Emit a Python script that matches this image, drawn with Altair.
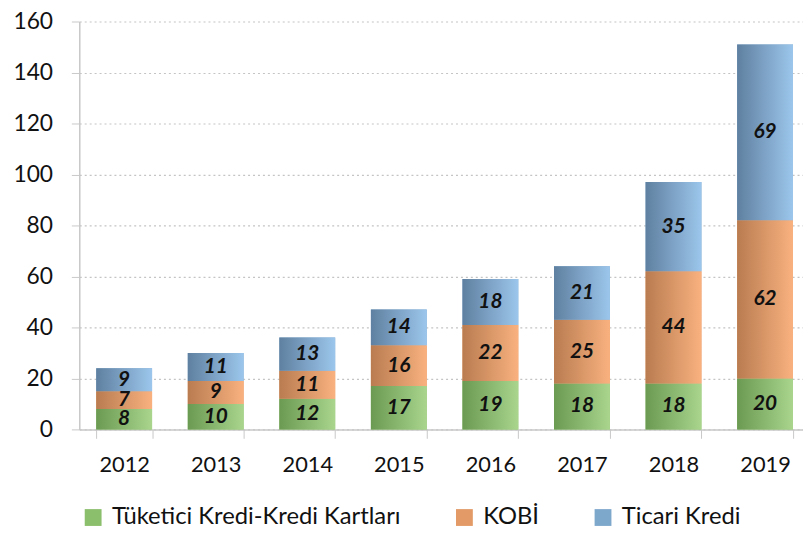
import altair as alt
import pandas as pd

years = ["2012", "2013", "2014", "2015", "2016", "2017", "2018", "2019"]
series = ["Tüketici Kredi-Kredi Kartları", "KOBİ", "Ticari Kredi"]
tuketici = [8, 10, 12, 17, 19, 18, 18, 20]
kobi = [7, 9, 11, 16, 22, 25, 44, 62]
ticari = [9, 11, 13, 14, 18, 21, 35, 69]

solid = ["#8cbf6c", "#e39a66", "#7ea7cc"]
grads = [("#6b9a52", "#a9d58d"), ("#b97c50", "#f9b17f"), ("#5f80a0", "#9cc6ec")]

rows = []
for i, y in enumerate(years):
    for k, (s, vals) in enumerate(zip(series, [tuketici, kobi, ticari])):
        rows.append({"year": y, "series": s, "order": k, "value": vals[i]})
df = pd.DataFrame(rows)

FONT = "Lato"

base = alt.Chart(df).transform_stack(
    stack="value", groupby=["year"], as_=["v0", "v1"],
    sort=[alt.SortField("order", order="ascending")]
).transform_calculate(mid="(datum.v0 + datum.v1) / 2")

xscale = alt.Scale(paddingInner=0.39, paddingOuter=0.185)
xenc = alt.X("year:N", sort=years, title=None, scale=xscale,
             axis=alt.Axis(labelAngle=0, labelFontSize=22, labelFont=FONT,
                           labelColor="#111111", labelPadding=17,
                           tickBand="extent", tickSize=9, tickColor="#c8c8c8",
                           domainColor="#c8c8c8", domainWidth=1.5, grid=False))
yenc = alt.Y("v1:Q", title=None,
             scale=alt.Scale(domain=[0, 160], nice=False),
             axis=alt.Axis(values=list(range(0, 161, 20)), labelFontSize=23,
                           labelFont=FONT, labelColor="#111111", labelPadding=19,
                           tickSize=8, tickColor="#c8c8c8", domainColor="#c8c8c8",
                           domainWidth=1.5, grid=True, gridColor="#c4c4c4",
                           gridDash=[2, 3], gridWidth=1.2))

legend_layer = base.mark_bar().encode(
    x=xenc, y=yenc, y2="v0:Q",
    color=alt.Color("series:N", scale=alt.Scale(domain=series, range=solid),
                    legend=alt.Legend(title=None, orient="none", legendX=2, legendY=489,
                                      direction="horizontal", symbolType="square",
                                      symbolSize=289, symbolStrokeWidth=0,
                                      labelFontSize=24, labelFont=FONT, labelLimit=500,
                                      labelColor="#111111", labelOffset=7,
                                      columnPadding=52, symbolOpacity=1)),
    order=alt.Order("order:Q"),
)

layers = [legend_layer]
for k, s in enumerate(series):
    g = alt.LinearGradient(gradient="linear",
                           stops=[alt.GradientStop(offset=0, color=grads[k][0]),
                                  alt.GradientStop(offset=1, color=grads[k][1])],
                           x1=0, x2=1, y1=0, y2=0)
    layers.append(base.transform_filter(alt.datum.series == s).mark_bar(fill=g).encode(
        x=alt.X("year:N", sort=years), y=alt.Y("v1:Q"), y2="v0:Q"))

text = base.mark_text(font=FONT, fontSize=21, fontWeight="bold", fontStyle="italic",
                      color="#111111").encode(
    x=alt.X("year:N", sort=years), y=alt.Y("mid:Q"), text="value:Q")
layers.append(text)

chart = alt.layer(*layers).properties(
    width=738, height=412,
    autosize=alt.AutoSizeParams(type="none"),
    padding={"left": 72, "top": 11, "right": -7, "bottom": 102}
).configure_view(stroke=None)

chart.save("out.html", embed_options={"renderer": "svg", "actions": False})
